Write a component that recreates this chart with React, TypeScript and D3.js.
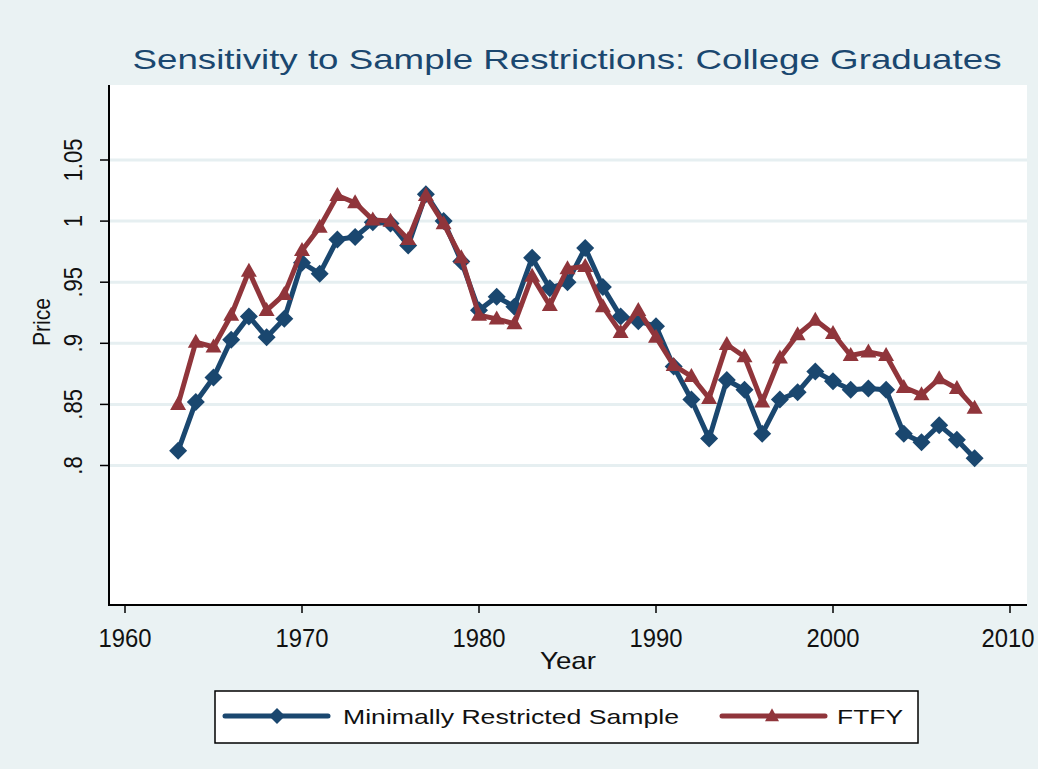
import React from "react";
import * as d3 from "d3";

const years = [1963,1964,1965,1966,1967,1968,1969,1970,1971,1972,1973,1974,1975,1976,1977,1978,1979,1980,1981,1982,1983,1984,1985,1986,1987,1988,1989,1990,1991,1992,1993,1994,1995,1996,1997,1998,1999,2000,2001,2002,2003,2004,2005,2006,2007,2008];
const minimallyRestricted = [0.812,0.852,0.872,0.903,0.922,0.905,0.920,0.966,0.957,0.985,0.987,0.999,0.998,0.980,1.022,1.000,0.967,0.927,0.938,0.930,0.970,0.945,0.950,0.978,0.946,0.922,0.918,0.914,0.881,0.854,0.822,0.870,0.862,0.826,0.854,0.860,0.877,0.869,0.862,0.863,0.862,0.826,0.819,0.833,0.821,0.806];
const ftfy = [0.850,0.901,0.897,0.923,0.959,0.927,0.940,0.976,0.995,1.021,1.015,1.001,1.000,0.985,1.021,0.998,0.970,0.923,0.920,0.916,0.955,0.931,0.961,0.963,0.930,0.909,0.927,0.905,0.882,0.873,0.855,0.899,0.889,0.852,0.888,0.907,0.919,0.908,0.890,0.893,0.890,0.864,0.858,0.871,0.863,0.847];
const xTicks = [1960, 1970, 1980, 1990, 2000, 2010];
const yTicks = [0.8, 0.85, 0.9, 0.95, 1, 1.05];
const yTickLabels = [".8", ".85", ".9", ".95", "1", "1.05"];
const seriesNames = ["Minimally Restricted Sample", "FTFY"];

const W = 1038, H = 769;
const plot = { left: 109, right: 1027, top: 85, bottom: 605 };
const BLUE = "#1a476f";
const RED = "#90353b";
const BG = "#eaf2f3";
const FONT = "'Liberation Sans', Arial, sans-serif";

const x = d3.scaleLinear().domain([1960, 2010]).range([125, 1010]);
const y = d3.scaleLinear().domain([0.8, 1.05]).range([465.5, 160]);

function diamondPath(cx: number, cy: number, r: number) {
  return `M${cx},${cy - r}L${cx + r},${cy}L${cx},${cy + r}L${cx - r},${cy}Z`;
}
function trianglePath(cx: number, cy: number, w: number, h: number) {
  return `M${cx},${cy - h * 0.6}L${cx + w / 2},${cy + h * 0.4}L${cx - w / 2},${cy + h * 0.4}Z`;
}

export default function App() {
  const line = d3.line<[number, number]>().x(d => x(d[0])).y(d => y(d[1]));
  const blueData: [number, number][] = years.map((yr, i) => [yr, minimallyRestricted[i]]);
  const redData: [number, number][] = years.map((yr, i) => [yr, ftfy[i]]);

  return (
    <svg width={W} height={H} style={{ position: "absolute", left: 0, top: 0, display: "block" }} fontFamily={FONT}>
      <rect x={0} y={0} width={W} height={H} fill={BG} />
      <rect x={plot.left} y={plot.top} width={plot.right - plot.left} height={plot.bottom - plot.top} fill="#ffffff" />
      {yTicks.map((t, i) => (
        <line key={"g" + i} x1={plot.left} x2={plot.right} y1={y(t)} y2={y(t)} stroke="#e6eff1" strokeWidth={3} />
      ))}
      <text x={567} y={69} textAnchor="middle" fontSize={28} fill={BLUE} textLength={869} lengthAdjust="spacingAndGlyphs">
        Sensitivity to Sample Restrictions: College Graduates
      </text>
      <line x1={plot.left} x2={plot.left} y1={plot.top} y2={plot.bottom + 1} stroke="#000" strokeWidth={2} />
      <line x1={plot.left - 1} x2={plot.right} y1={plot.bottom} y2={plot.bottom} stroke="#000" strokeWidth={2} />
      {yTicks.map((t, i) => (
        <g key={"yt" + i}>
          <line x1={plot.left - 9} x2={plot.left} y1={y(t)} y2={y(t)} stroke="#000" strokeWidth={1.5} />
          <text transform={`translate(82,${y(t)}) rotate(-90) scale(0.85,1)`} textAnchor="middle" fontSize={26} fill="#111">
            {yTickLabels[i]}
          </text>
        </g>
      ))}
      {xTicks.map((t, i) => (
        <g key={"xt" + i}>
          <line x1={x(t)} x2={x(t)} y1={plot.bottom} y2={plot.bottom + 8} stroke="#000" strokeWidth={1.5} />
          <text x={i === xTicks.length - 1 ? x(t) - 2 : x(t)} y={647} textAnchor="middle" fontSize={25} fill="#111" textLength={53} lengthAdjust="spacingAndGlyphs">
            {t}
          </text>
        </g>
      ))}
      <text x={568} y={669} textAnchor="middle" fontSize={24} fill="#111" textLength={56} lengthAdjust="spacingAndGlyphs">Year</text>
      <text transform={`translate(50,322) rotate(-90)`} textAnchor="middle" fontSize={24} fill="#111" textLength={48} lengthAdjust="spacingAndGlyphs">Price</text>

      <path d={line(blueData) || ""} fill="none" stroke={BLUE} strokeWidth={5} strokeLinejoin="round" />
      {blueData.map((d, i) => (
        <path key={"b" + i} d={diamondPath(x(d[0]), y(d[1]), 9)} fill={BLUE} />
      ))}
      <path d={line(redData) || ""} fill="none" stroke={RED} strokeWidth={5} strokeLinejoin="round" />
      {redData.map((d, i) => (
        <path key={"r" + i} d={trianglePath(x(d[0]), y(d[1]), 16, 14)} fill={RED} />
      ))}

      <rect x={215} y={691} width={703} height={52} fill="#ffffff" stroke="#000" strokeWidth={1.5} />
      <line x1={225} x2={328} y1={716} y2={716} stroke={BLUE} strokeWidth={5} strokeLinecap="round" />
      <path d={diamondPath(277, 716, 8)} fill={BLUE} />
      <text x={343} y={724} fontSize={21} fill="#111" textLength={336} lengthAdjust="spacingAndGlyphs">{seriesNames[0]}</text>
      <line x1={722} x2={825} y1={716} y2={716} stroke={RED} strokeWidth={5} strokeLinecap="round" />
      <path d={trianglePath(772, 716, 14, 13)} fill={RED} />
      <text x={837} y={724} fontSize={21} fill="#111" textLength={66} lengthAdjust="spacingAndGlyphs">{seriesNames[1]}</text>
    </svg>
  );
}
